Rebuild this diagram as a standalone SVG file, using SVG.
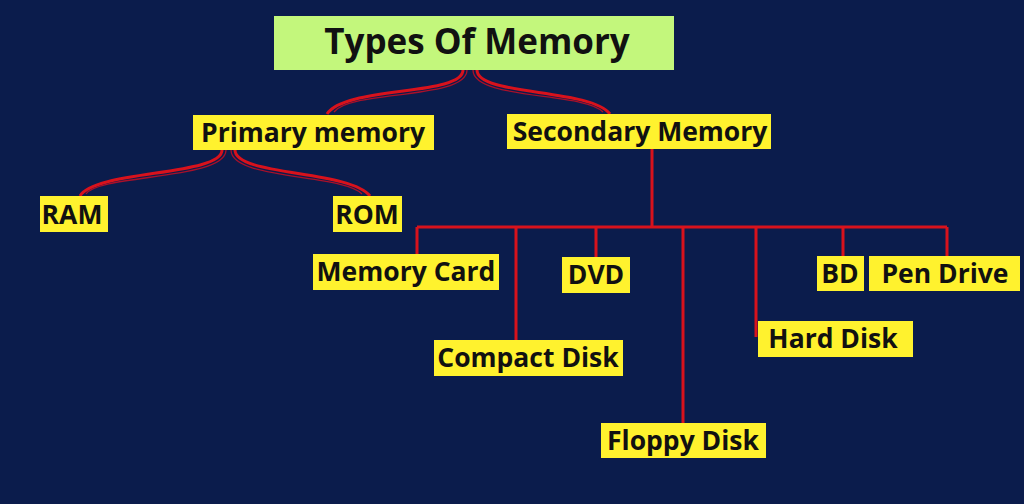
<svg xmlns="http://www.w3.org/2000/svg" width="1024" height="504" viewBox="0 0 1024 504">
<style>
.bg{fill:#0b1c4c}
.box{fill:#fff22e}
.title{fill:#c3f77c}
.t{font-family:"Open Sans","Liberation Sans",sans-serif;font-weight:700;font-size:26.5px;fill:#111;text-anchor:middle}
.tt{font-size:35px}
.ln{fill:none;stroke:#d8121c;stroke-width:3}
.ln2{fill:none;stroke:#a8102a;stroke-width:1.3}
</style>
<rect class="bg" x="0" y="0" width="1024" height="504"/>
<g id="connectors">
<path class="ln" d="M463,70 C463,96 345,86 327,114"/>
<path class="ln2" d="M467,70 C467,100 350,90 334,112"/>
<path class="ln" d="M477,70 C477,96 590,88 610,114"/>
<path class="ln2" d="M473,70 C473,100 585,92 603,112"/>
<path class="ln" d="M222,150 C222,176 95,170 80,196"/>
<path class="ln2" d="M226,150 C226,180 100,174 86,194"/>
<path class="ln" d="M235,150 C235,176 350,170 370,196"/>
<path class="ln2" d="M231,150 C231,180 344,174 362,194"/>
<path class="ln" d="M652,149 V227 M417,227 H947 M417,227 V254 M516,227 V340 M596,227 V257 M683,227 V423 M756,227 V337 M843,227 V256 M947,227 V256"/>
</g>
<g id="types-of-memory"><rect class="title" x="274" y="16" width="400" height="54"/><text class="t tt" x="477" y="54">Types Of Memory</text></g>
<g id="primary-memory"><rect class="box" x="193" y="115" width="241" height="35"/><text class="t" x="313" y="142">Primary memory</text></g>
<g id="secondary-memory"><rect class="box" x="507" y="114" width="264" height="35"/><text class="t" x="640" y="141">Secondary Memory</text></g>
<g id="ram"><rect class="box" x="40" y="196" width="68" height="36"/><text class="t" x="72" y="224">RAM</text></g>
<g id="rom"><rect class="box" x="333" y="196" width="69" height="36"/><text class="t" x="367" y="224">ROM</text></g>
<g id="memory-card"><rect class="box" x="313" y="254" width="186" height="36"/><text class="t" x="406" y="281">Memory Card</text></g>
<g id="dvd"><rect class="box" x="562" y="257" width="68" height="36"/><text class="t" x="596" y="284">DVD</text></g>
<g id="bd"><rect class="box" x="817" y="256" width="47" height="35"/><text class="t" x="840" y="283">BD</text></g>
<g id="pen-drive"><rect class="box" x="869" y="256" width="151" height="35"/><text class="t" x="945" y="283">Pen Drive</text></g>
<g id="hard-disk"><rect class="box" x="758" y="321" width="155" height="36"/><text class="t" x="833" y="348">Hard Disk</text></g>
<g id="compact-disk"><rect class="box" x="434" y="340" width="189" height="36"/><text class="t" x="528" y="367">Compact Disk</text></g>
<g id="floppy-disk"><rect class="box" x="601" y="423" width="165" height="35"/><text class="t" x="683" y="450">Floppy Disk</text></g>
</svg>
